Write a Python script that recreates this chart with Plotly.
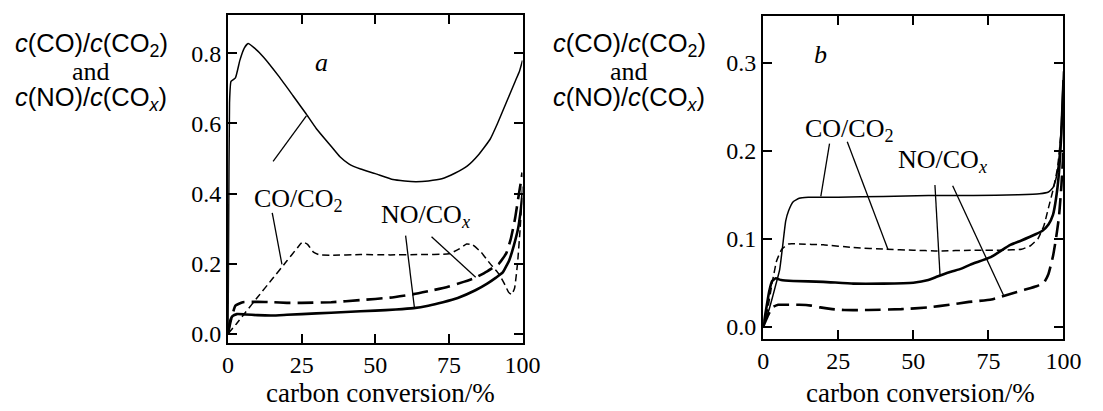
import plotly.graph_objects as go

W, H = 1103, 411

# ---------------- data: panel a ----------------
a_co_solid_x = [0, 0.2, 0.5, 1, 2.5, 4, 5.5, 6.8, 9, 12, 17.4, 22, 26.3, 30, 35, 38, 41, 45, 50, 56, 60, 63.7, 68, 72.6, 77, 81.3, 85, 89, 91.5, 93.5, 95.5, 97.5, 99, 100]
a_co_solid_y = [0.0, 0.3, 0.66, 0.72, 0.73, 0.78, 0.815, 0.828, 0.815, 0.79, 0.733, 0.68, 0.63, 0.585, 0.535, 0.505, 0.485, 0.47, 0.457, 0.44, 0.436, 0.434, 0.436, 0.442, 0.458, 0.479, 0.51, 0.555, 0.6, 0.64, 0.68, 0.72, 0.75, 0.78]

a_co_dash_x = [0, 3, 6, 10, 15, 20, 23.5, 25.3, 27, 29, 31, 35, 45, 55, 65, 75, 78.5, 81, 83, 86, 89, 92, 94, 95.3, 96.3, 97.3, 98.3, 99.2, 100]
a_co_dash_y = [0.0, 0.03, 0.062, 0.104, 0.156, 0.208, 0.245, 0.262, 0.255, 0.233, 0.225, 0.224, 0.226, 0.225, 0.226, 0.228, 0.242, 0.256, 0.254, 0.232, 0.2, 0.17, 0.14, 0.118, 0.112, 0.13, 0.2, 0.3, 0.42]

a_no_dash_x = [0, 1, 2.5, 5, 10, 15, 20, 25, 35, 45, 55, 63, 70, 75, 80, 84, 88, 92, 94.5, 96, 97.5, 98.8, 100]
a_no_dash_y = [0.0, 0.04, 0.08, 0.09, 0.091, 0.09, 0.088, 0.088, 0.09, 0.096, 0.103, 0.113, 0.125, 0.135, 0.148, 0.16, 0.178, 0.2, 0.23, 0.27, 0.33, 0.4, 0.46]

a_no_solid_x = [0, 0.5, 1.5, 3, 6, 10, 15, 20, 30, 40, 50, 57, 63, 68, 73, 78, 84, 88, 91, 93.3, 95.5, 97, 98.5, 99.5, 100]
a_no_solid_y = [0.0, 0.03, 0.05, 0.056, 0.055, 0.053, 0.052, 0.054, 0.058, 0.062, 0.066, 0.069, 0.073, 0.08, 0.09, 0.102, 0.124, 0.143, 0.16, 0.175, 0.21, 0.25, 0.3, 0.36, 0.4]

# ---------------- data: panel b ----------------
b_co_solid_x = [0, 2, 4, 5.5, 6.5, 7.5, 8.5, 10, 12, 15, 25, 40, 55, 70, 85, 92, 95, 96.5, 97.5, 98.5, 99.3, 100]
b_co_solid_y = [0.0, 0.02, 0.045, 0.065, 0.092, 0.12, 0.132, 0.142, 0.146, 0.147, 0.147, 0.148, 0.149, 0.149, 0.15, 0.151, 0.153, 0.158, 0.168, 0.19, 0.23, 0.29]

b_co_dash_x = [0, 1.5, 3, 4.5, 6.2, 8.5, 12, 20, 30, 41, 50, 58, 70, 80, 86, 89, 91.5, 93.5, 95, 96.5, 98, 99.2, 100]
b_co_dash_y = [0.0, 0.02, 0.05, 0.075, 0.088, 0.094, 0.094, 0.093, 0.09, 0.088, 0.087, 0.086, 0.087, 0.087, 0.088, 0.092, 0.1, 0.115, 0.135, 0.155, 0.18, 0.22, 0.26]

b_no_solid_x = [0, 1, 2, 3, 4.2, 6, 10, 20, 30, 40, 50, 55, 58, 62, 66, 69.3, 75.8, 82.3, 86, 90.7, 93, 95, 96.5, 97.5, 98.5, 99.3, 100]
b_no_solid_y = [0.0, 0.02, 0.04, 0.052, 0.055, 0.053, 0.052, 0.051, 0.049, 0.049, 0.05, 0.053, 0.057, 0.062, 0.066, 0.071, 0.079, 0.093, 0.098, 0.105, 0.109, 0.116, 0.127, 0.145, 0.175, 0.22, 0.28]

b_no_dash_x = [0, 1.5, 3, 5, 7.4, 12, 16, 19, 23, 27, 35, 46, 55, 62, 68, 76, 82, 87, 91, 93.5, 95, 96.5, 97.5, 98.5, 99.3, 100]
b_no_dash_y = [0.0, 0.012, 0.022, 0.025, 0.025, 0.025, 0.024, 0.022, 0.02, 0.019, 0.019, 0.02, 0.022, 0.025, 0.028, 0.031, 0.037, 0.042, 0.046, 0.05, 0.06, 0.08, 0.1, 0.125, 0.16, 0.2]

# tick labels
x_ticks = [0, 25, 50, 75, 100]
a_y_ticks = [0.0, 0.2, 0.4, 0.6, 0.8]
b_y_ticks = [0.0, 0.1, 0.2, 0.3]

# curve labels: (text, x, y)  and leader lines (x0, y0, x1, y1) in data units
a_labels = [("CO/CO<sub>2</sub>", 23.9, 0.382), ("NO/CO<sub><i>x</i></sub>", 67.1, 0.336)]
a_leaders = [(15.3, 0.492, 26.6, 0.622), (15.0, 0.345, 18.3, 0.198),
             (60.3, 0.28, 63.3, 0.074), (69.1, 0.277, 84.1, 0.161)]
b_labels = [("CO/CO<sub>2</sub>", 28.6, 0.2236), ("NO/CO<sub><i>x</i></sub>", 59.8, 0.188)]
b_leaders = [(22.1, 0.208, 19.2, 0.148), (28.0, 0.21, 41.6, 0.0875),
             (57.2, 0.161, 58.9, 0.058), (63.1, 0.16, 80.0, 0.036)]

SERIF = "Liberation Serif, Times New Roman, serif"
SANS = "Liberation Sans, Arial, sans-serif"

fig = go.Figure()

def add(xs, ys, xa, ya, width, dash):
    fig.add_trace(go.Scatter(x=xs, y=ys, xaxis=xa, yaxis=ya, mode="lines",
                             line=dict(color="black", width=width, dash=dash,
                                       shape="spline", smoothing=0.4),
                             hoverinfo="skip", showlegend=False))

THIN_DASH = "7px,4px"
LONG_DASH = "16px,7px"

add(a_co_solid_x, a_co_solid_y, "x", "y", 1.5, "solid")
add(a_co_dash_x, a_co_dash_y, "x", "y", 1.5, THIN_DASH)
add(a_no_dash_x, a_no_dash_y, "x", "y", 2.6, LONG_DASH)
add(a_no_solid_x, a_no_solid_y, "x", "y", 2.6, "solid")

add(b_co_solid_x, b_co_solid_y, "x2", "y2", 1.5, "solid")
add(b_co_dash_x, b_co_dash_y, "x2", "y2", 1.5, THIN_DASH)
add(b_no_dash_x, b_no_dash_y, "x2", "y2", 2.6, LONG_DASH)
add(b_no_solid_x, b_no_solid_y, "x2", "y2", 2.6, "solid")

def px_x(p):
    return p / W

def px_y(p):
    return 1 - p / H

axis_common = dict(showline=True, linecolor="black", linewidth=2, mirror="ticks",
                   ticks="inside", ticklen=9, tickwidth=2, tickcolor="black",
                   showgrid=False, zeroline=False, fixedrange=True,
                   tickfont=dict(family=SERIF, size=24, color="black"))

fig.update_layout(
    width=W, height=H, margin=dict(l=0, r=0, t=0, b=0),
    paper_bgcolor="white", plot_bgcolor="white",
    xaxis=dict(domain=[px_x(227), px_x(528)], range=[0, 100], anchor="y",
               tickvals=x_ticks, ticktext=[str(v) for v in x_ticks], **axis_common),
    yaxis=dict(domain=[px_y(346), px_y(15)], range=[-0.0254, 0.910], anchor="x",
               tickvals=a_y_ticks, ticktext=["%.1f" % v for v in a_y_ticks], **axis_common),
    xaxis2=dict(domain=[px_x(774), px_x(1081)], range=[0, 100], anchor="y2",
                tickvals=x_ticks, ticktext=[str(v) for v in x_ticks], **axis_common),
    yaxis2=dict(domain=[px_y(342), px_y(16)], range=[-0.0135, 0.353], anchor="x2",
                tickvals=b_y_ticks, ticktext=["%.1f" % v for v in b_y_ticks], **axis_common),
)

ann = []
shapes = []

def text_ann(t, x, y, xref, yref, family, size):
    return dict(text=t, x=x, y=y, xref=xref, yref=yref, showarrow=False,
                xanchor="center", yanchor="middle",
                font=dict(family=family, size=size, color="black"))

for (t, x, y) in a_labels:
    ann.append(text_ann(t, x, y, "x", "y", SERIF, 26))
for (t, x, y) in b_labels:
    ann.append(text_ann(t, x, y, "x2", "y2", SERIF, 26))
for (x0, y0, x1, y1) in a_leaders:
    shapes.append(dict(type="line", x0=x0, y0=y0, x1=x1, y1=y1, xref="x", yref="y",
                       line=dict(color="black", width=1.3)))
for (x0, y0, x1, y1) in b_leaders:
    shapes.append(dict(type="line", x0=x0, y0=y0, x1=x1, y1=y1, xref="x2", yref="y2",
                       line=dict(color="black", width=1.3)))

# panel letters
ann.append(text_ann("<i>a</i>", 31.6, 0.775, "x", "y", SERIF, 26))
ann.append(text_ann("<i>b</i>", 19.2, 0.309, "x2", "y2", SERIF, 26))

# y titles
for cx in (87, 637):
    ann.append(text_ann("<i>c</i>(CO)/<i>c</i>(CO<sub>2</sub>)", px_x(cx), px_y(45),
                        "paper", "paper", SANS, 25.5))
    ann.append(text_ann("and", px_x(cx), px_y(72), "paper", "paper", SERIF, 26))
    ann.append(text_ann("<i>c</i>(NO)/<i>c</i>(CO<sub><i>x</i></sub>)", px_x(cx), px_y(100),
                        "paper", "paper", SANS, 25.5))

# x titles
for cx in (383, 935):
    ann.append(text_ann("carbon conversion/%", px_x(cx), px_y(397), "paper", "paper", SERIF, 27))

fig.update_layout(annotations=ann, shapes=shapes)

fig.write_html("out.html", config={"displayModeBar": False, "responsive": False},
               post_script="document.body.style.margin='0';")
